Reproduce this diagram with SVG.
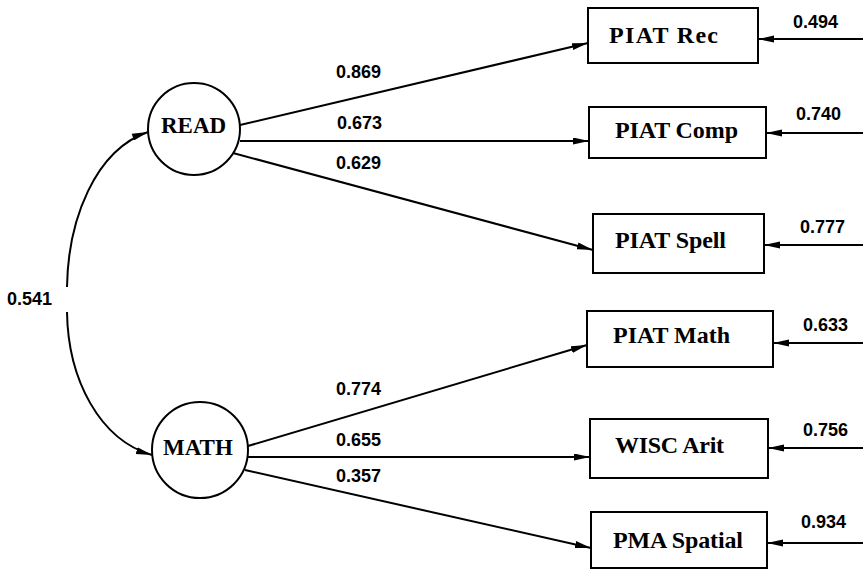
<svg xmlns="http://www.w3.org/2000/svg" width="863" height="573" viewBox="0 0 863 573">
<style>
.box{fill:#fff;stroke:#000;stroke-width:2}
.lat{fill:#fff;stroke:#000;stroke-width:2}
.nl{font-family:"Liberation Serif","Times New Roman",serif;font-weight:bold;font-size:23px;fill:#000}
.bl{font-family:"Liberation Serif","Times New Roman",serif;font-weight:bold;font-size:24px;fill:#000}
.num{font-family:"Liberation Sans",Arial,sans-serif;font-weight:bold;font-size:18px;fill:#000}
.edge{fill:none;stroke:#000;stroke-width:2}
</style>
<defs>
<marker id="ah" markerUnits="userSpaceOnUse" markerWidth="17" markerHeight="8" refX="16" refY="3.5" orient="auto">
<path d="M0,0 L16,3.5 L0,7 Z" fill="#000"/>
</marker>
<marker id="ahs" markerUnits="userSpaceOnUse" markerWidth="17" markerHeight="8" refX="0" refY="3.5" orient="auto">
<path d="M16,0 L0,3.5 L16,7 Z" fill="#000"/>
</marker>
</defs>
<rect width="863" height="573" fill="#fff"/>
<g id="connectors">
<path class="edge" d="M240,125 L588,43" marker-end="url(#ah)"/>
<path class="edge" d="M240,141 L589,141" marker-end="url(#ah)"/>
<path class="edge" d="M233,153 L593,250" marker-end="url(#ah)"/>
<path class="edge" d="M248,446 L587,345" marker-end="url(#ah)"/>
<path class="edge" d="M248,457 L590,457" marker-end="url(#ah)"/>
<path class="edge" d="M245,470 L591,548" marker-end="url(#ah)"/>
<path class="edge" d="M863,39 L758,39" marker-end="url(#ah)"/>
<path class="edge" d="M863,133 L766,133" marker-end="url(#ah)"/>
<path class="edge" d="M863,245 L764,245" marker-end="url(#ah)"/>
<path class="edge" d="M863,343 L773,343" marker-end="url(#ah)"/>
<path class="edge" d="M863,448 L768,448" marker-end="url(#ah)"/>
<path class="edge" d="M863,543 L767,543" marker-end="url(#ah)"/>
<path class="edge" d="M148,132 C95,150 68,220 67,287" marker-start="url(#ahs)"/>
<path class="edge" d="M67,312 C68,380 100,440 152,455" marker-end="url(#ah)"/>
<text class="num" x="336" y="78">0.869</text>
<text class="num" x="337" y="129">0.673</text>
<text class="num" x="336" y="169">0.629</text>
<text class="num" x="336" y="395">0.774</text>
<text class="num" x="336" y="446">0.655</text>
<text class="num" x="336" y="482">0.357</text>
<text class="num" x="7" y="305">0.541</text>
<text class="num" x="793" y="28">0.494</text>
<text class="num" x="796" y="120">0.740</text>
<text class="num" x="800" y="233">0.777</text>
<text class="num" x="803" y="331">0.633</text>
<text class="num" x="803" y="436">0.756</text>
<text class="num" x="801" y="528">0.934</text>
</g>
<g id="READ">
<circle class="lat" cx="194" cy="129" r="46"/>
<text class="nl" x="161" y="133">READ</text>
</g>
<g id="MATH">
<circle class="lat" cx="200" cy="450" r="48"/>
<text class="nl" x="163" y="455">MATH</text>
</g>
<g id="PIATRec">
<rect class="box" x="588" y="8" width="170" height="55"/>
<text class="bl" x="609" y="43" textLength="109" lengthAdjust="spacing">PIAT Rec</text>
</g>
<g id="PIATComp">
<rect class="box" x="589" y="107" width="177" height="51"/>
<text class="bl" x="615" y="138" textLength="123" lengthAdjust="spacing">PIAT Comp</text>
</g>
<g id="PIATSpell">
<rect class="box" x="593" y="214" width="171" height="59"/>
<text class="bl" x="615" y="248" textLength="111" lengthAdjust="spacing">PIAT Spell</text>
</g>
<g id="PIATMath">
<rect class="box" x="587" y="311" width="186" height="56"/>
<text class="bl" x="613" y="343" textLength="117" lengthAdjust="spacing">PIAT Math</text>
</g>
<g id="WISCArit">
<rect class="box" x="590" y="419" width="178" height="59"/>
<text class="bl" x="615" y="453" textLength="109" lengthAdjust="spacing">WISC Arit</text>
</g>
<g id="PMASpatial">
<rect class="box" x="591" y="512" width="176" height="56"/>
<text class="bl" x="613" y="548" textLength="130" lengthAdjust="spacing">PMA Spatial</text>
</g>
</svg>
